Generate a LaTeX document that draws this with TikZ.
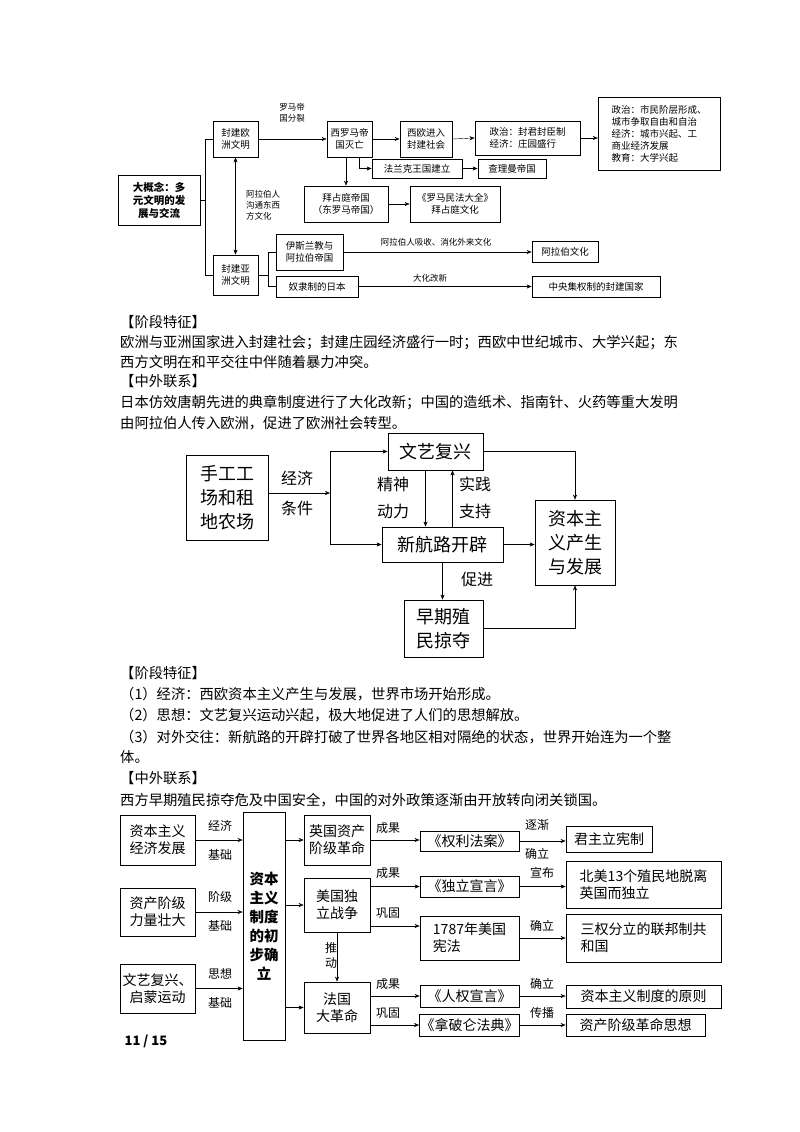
\documentclass[tikz,border=0pt]{standalone}
\usepackage{fontspec}
\setmainfont{Noto Sans CJK SC}
\usetikzlibrary{arrows.meta,positioning,calc}

\tikzset{
  box/.style={draw, thick, inner sep=1pt, align=center},
  lbl/.style={inner sep=0pt, align=center},
  arr/.style={-{Stealth[length=5pt,width=4pt]}},
  para/.style={anchor=west, inner sep=0pt, font=\fontsize{14.3}{20}\selectfont}
}

\begin{document}
\begin{tikzpicture}[x=1pt,y=-1pt]
\useasboundingbox[fill=white] (0,0) rectangle (800,1132);

% Top diagram: feudal civilisations
\begin{scope}[font=\fontsize{9.5}{12}\selectfont]
\node[box, minimum width=82, minimum height=50, font=\bfseries\fontsize{10.5}{13}\selectfont] (big) at (159,200) {大概念：多\\元文明的发\\展与交流};
\node[box, minimum width=45, minimum height=36] (feu) at (235.5,139) {封建欧\\洲文明};
\node[box, minimum width=45, minimum height=36] (xlm) at (349.5,139) {西罗马帝\\国灭亡};
\node[box, minimum width=52, minimum height=36] (xo) at (426,139) {西欧进入\\封建社会};
\node[box, minimum width=105, minimum height=34, align=left] (zz) at (527.5,138) {政治：封君封臣制\\经济：庄园盛行};
\node[box, thin, minimum width=122, minimum height=73, align=left] (rt) at (659,133.5) {政治：市民阶层形成、\\城市争取自由和自治\\经济：城市兴起、工\\商业经济发展\\教育：大学兴起};
\node[box, minimum width=90, minimum height=19] (flk) at (417,168.5) {法兰克王国建立};
\node[box, minimum width=68, minimum height=19] (clm) at (512,168.5) {查理曼帝国};
\node[box, minimum width=84, minimum height=36] (bzt) at (346,204) {拜占庭帝国\\（东罗马帝国）};
\node[box, minimum width=90, minimum height=36] (lmf) at (455,204) {《罗马民法大全》\\拜占庭文化};
\node[box, minimum width=67, minimum height=36] (ysl) at (309.5,252) {伊斯兰教与\\阿拉伯帝国};
\node[box, minimum width=45, minimum height=40] (fa) at (235.5,275) {封建亚\\洲文明};
\node[box, minimum width=66, minimum height=21] (alb) at (565,251.5) {阿拉伯文化};
\node[box, minimum width=82, minimum height=21] (rb) at (317,286.5) {奴隶制的日本};
\node[box, minimum width=128, minimum height=21] (zy) at (596,286.5) {中央集权制的封建国家};

\node[lbl, font=\fontsize{8.5}{11}\selectfont] (fl) at (292,113) {罗马帝\\国分裂};
\node[lbl, align=left, font=\fontsize{8.5}{11}\selectfont] (alw) at (263,205) {阿拉伯人\\沟通东西\\方文化};
\node[lbl, font=\fontsize{8.5}{11}\selectfont] (xs) at (436,242) {阿拉伯人吸收、消化外来文化};
\node[lbl, font=\fontsize{8.5}{11}\selectfont] (dh) at (430,278) {大化改新};

\draw (big.east) -- (205,200);
\draw (feu.west) -- (205,139) |- (fa.west);
\draw[arr] (feu.east) -- (xlm.west);
\draw[arr] (xlm.east) -- (xo.west);
\draw[arr] (xo.east) -- (zz.west);
\draw[arr] (zz.east) -- (zz.east -| rt.west);
\draw[arr] (xlm.south -| bzt.north) -- (bzt.north);
\draw[arr] ([xshift=10]xlm.south) |- (flk.west);
\draw[arr] (flk.east) -- (clm.west);
\draw[arr] (bzt.east) -- (lmf.west);
\draw[{Stealth[length=5pt,width=4pt]}-{Stealth[length=5pt,width=4pt]}] (feu.south) -- (fa.north);
\draw (fa.east) -- (268,275);
\draw (ysl.west) -- (268,252) |- (rb.west);
\draw[arr] (ysl.east) -- (ysl.east -| alb.west);
\draw[arr] (rb.east) -- (zy.west);
\end{scope}

% Text block 1
\node[para] (t1) at (120,322) {【阶段特征】};
\node[para] (t2) at (120,343) {欧洲与亚洲国家进入封建社会；封建庄园经济盛行一时；西欧中世纪城市、大学兴起；东};
\node[para] (t3) at (120,362) {西方文明在和平交往中伴随着暴力冲突。};
\node[para] (t4) at (120,381) {【中外联系】};
\node[para] (t5) at (120,403) {日本仿效唐朝先进的典章制度进行了大化改新；中国的造纸术、指南针、火药等重大发明};
\node[para] (t6) at (120,423) {由阿拉伯人传入欧洲，促进了欧洲社会转型。};

% Middle diagram: capitalism rises
\begin{scope}[font=\fontsize{18}{24}\selectfont]
\node[box, minimum width=82, minimum height=85] (sg) at (227,497.5) {手工工\\场和租\\地农场};
\node[box, minimum width=95, minimum height=37] (wy) at (435.5,451.5) {文艺复兴};
\node[box, minimum width=121, minimum height=35] (xhl) at (442.5,544.5) {新航路开辟};
\node[box, minimum width=80, minimum height=85] (zb) at (575,542.5) {资本主\\义产生\\与发展};
\node[box, minimum width=79, minimum height=57] (zq) at (443.5,628.5) {早期殖\\民掠夺};

\node[lbl, font=\fontsize{16}{30}\selectfont] (jj) at (297,493) {经济\\条件};
\node[lbl, font=\fontsize{16}{27}\selectfont] (js) at (393,498) {精神\\动力};
\node[lbl, font=\fontsize{16}{27}\selectfont] (sj) at (475,498) {实践\\支持};
\node[lbl, font=\fontsize{16}{20}\selectfont] (cj) at (477,579) {促进};

\coordinate (j2) at (330,493);
\draw[arr] (sg.east |- j2) -- (j2);
\draw[arr] (330,452) |- (wy.west);
\draw (330,452) -- (330,544.5);
\draw[arr] (330,544.5) -- (xhl.west);
\draw[arr] ([xshift=-10]wy.south) -- ([xshift=-10]wy.south |- xhl.north);
\draw[arr] ([xshift=10]xhl.north) -- ([xshift=10]xhl.north |- wy.south);
\draw[arr] (wy.east) -| (zb.north);
\draw[arr] (xhl.east) -- (xhl.east -| zb.west);
\draw[arr] (xhl.south) -- (xhl.south |- zq.north);
\draw[arr] (zq.east) -| (zb.south);
\end{scope}

% Text block 2
\node[para] (u1) at (120,673) {【阶段特征】};
\node[para] (u2) at (120,694) {（1）经济：西欧资本主义产生与发展，世界市场开始形成。};
\node[para] (u3) at (120,715) {（2）思想：文艺复兴运动兴起，极大地促进了人们的思想解放。};
\node[para] (u4) at (120,737) {（3）对外交往：新航路的开辟打破了世界各地区相对隔绝的状态，世界开始连为一个整};
\node[para] (u5) at (120,757) {体。};
\node[para] (u6) at (120,778) {【中外联系】};
\node[para] (u7) at (120,800) {西方早期殖民掠夺危及中国安全，中国的对外政策逐渐由开放转向闭关锁国。};

% Bottom diagram: capitalist system established
\begin{scope}[font=\fontsize{14}{17}\selectfont]
\node[box, minimum width=75, minimum height=50] (b1) at (157.5,840) {资本主义\\经济发展};
\node[box, minimum width=75, minimum height=48] (b2) at (157.5,912) {资产阶级\\力量壮大};
\node[box, minimum width=75, minimum height=49] (b3) at (157.5,988.5) {文艺复兴、\\启蒙运动};
\node[box, minimum width=42, minimum height=228, font=\bfseries\fontsize{14.5}{19}\selectfont] (big2) at (264,926) {资本\\主义\\制度\\的初\\步确\\立};
\node[box, minimum width=66, minimum height=50] (yg) at (337,840) {英国资产\\阶级革命};
\node[box, minimum width=66, minimum height=54] (mg) at (337,905) {美国独\\立战争};
\node[box, minimum width=66, minimum height=51] (fg) at (337,1007.5) {法国\\大革命};
\node[box, minimum width=99, minimum height=20] (ql) at (469.5,841) {《权利法案》};
\node[box, minimum width=86, minimum height=26] (jz) at (609,839) {君主立宪制};
\node[box, minimum width=99, minimum height=21] (dl) at (469.5,886.5) {《独立宣言》};
\node[box, minimum width=155, minimum height=47, align=left] (bm) at (643.5,884.5) {北美13个殖民地脱离\\英国而独立};
\node[box, minimum width=99, minimum height=44, align=left] (xf) at (469.5,938) {1787年美国\\宪法};
\node[box, minimum width=155, minimum height=48, align=left] (sq) at (643.5,938) {三权分立的联邦制共\\和国};
\node[box, minimum width=99, minimum height=22] (rq) at (469.5,996) {《人权宣言》};
\node[box, minimum width=155, minimum height=23] (yz) at (643.5,996.5) {资本主义制度的原则};
\node[box, minimum width=99, minimum height=22] (nf) at (469.5,1025) {《拿破仑法典》};
\node[box, minimum width=139, minimum height=22] (cz) at (635.5,1025) {资产阶级革命思想};
\end{scope}

\begin{scope}[every node/.style={lbl, font=\fontsize{12}{29}\selectfont}]
\node (l1) at (220,840) {经济\\基础};
\node (l2) at (220,911) {阶级\\基础};
\node (l3) at (220,988) {思想\\基础};
\node (l4) at (537,839) {逐渐\\确立};
\end{scope}
\begin{scope}[every node/.style={lbl, font=\fontsize{12}{15}\selectfont}]
\node (c1) at (388,828) {成果};
\node (c2) at (388,873) {成果};
\node (c3) at (388,913) {巩固};
\node (c4) at (388,984) {成果};
\node (c5) at (388,1013) {巩固};
\node (c6) at (542,873) {宣布};
\node (c7) at (542,926) {确立};
\node (c8) at (542,984) {确立};
\node (c9) at (542,1013) {传播};
\node (c10) at (331,955) {推\\动};
\end{scope}

\draw[arr] (b1.east) -- (b1.east -| big2.west);
\draw[arr] (b2.east) -- (b2.east -| big2.west);
\draw[arr] (b3.east) -- (b3.east -| big2.west);
\draw[arr] (big2.east |- yg.west) -- (yg.west);
\draw[arr] (big2.east |- mg.west) -- (mg.west);
\draw[arr] (big2.east |- fg.west) -- (fg.west);
\draw[arr] (yg.east) -- (yg.east -| ql.west);
\draw[arr] (ql.east) -- (ql.east -| jz.west);
\draw[arr] (mg.east |- dl.west) -- (dl.west);
\draw[arr] ([yshift=-21]mg.east) -- ([yshift=-21]mg.east -| xf.west);
\draw[arr] (dl.east) -- (dl.east -| bm.west);
\draw[arr] (xf.east) -- (xf.east -| sq.west);
\draw[arr] (mg.south) -- (fg.north);
\draw[arr] (fg.east |- rq.west) -- (rq.west);
\draw[arr] (fg.east |- nf.west) -- (nf.west);
\draw[arr] (rq.east) -- (rq.east -| yz.west);
\draw[arr] (nf.east) -- (cz.west);

% Page number
\node[lbl, font=\bfseries\fontsize{13}{16}\selectfont] (pg) at (146,1041) {11 / 15};
\end{tikzpicture}
\end{document}
